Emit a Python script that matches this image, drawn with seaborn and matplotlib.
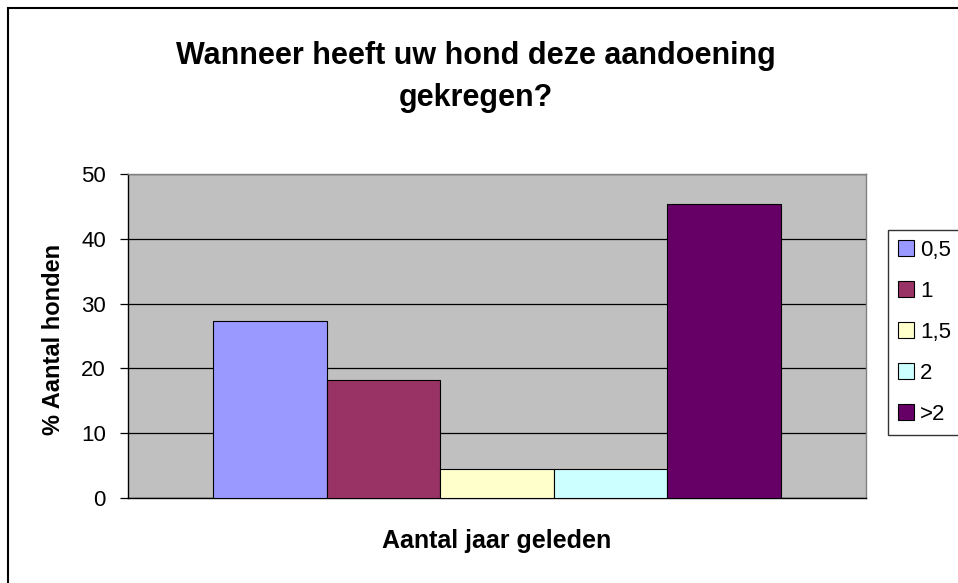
import pandas as pd
import matplotlib.pyplot as plt
import seaborn as sns
from matplotlib.patches import Rectangle, Patch

# data (percentages)
jaren = ["0,5", "1", "1,5", "2", ">2"]
percentages = [27.3, 18.2, 4.5, 4.5, 45.4]
kleuren = ["#9999FF", "#993366", "#FFFFCC", "#CCFFFF", "#660066"]

df = pd.DataFrame({"groep": [""] * len(jaren), "jaar": jaren, "pct": percentages})

sns.set_style("white")
plt.rcParams["font.family"] = ["Liberation Sans", "DejaVu Sans"]
plt.rcParams["text.color"] = "black"
plt.rcParams["axes.labelcolor"] = "black"
plt.rcParams["ytick.color"] = "black"

fig = plt.figure(figsize=(9.58, 5.83), dpi=100)
ax = fig.add_axes([128 / 958, 1 - 498 / 583, (866 - 128) / 958, (498 - 174) / 583])

sns.barplot(data=df, x="groep", y="pct", hue="jaar", palette=kleuren,
            saturation=1, width=0.77, gap=0, edgecolor="black", linewidth=0.8,
            ax=ax, legend=False, zorder=3)

ax.set_facecolor("#C0C0C0")
ax.set_xlim(-0.5, 0.5)
ax.set_ylim(0, 50)
ax.set_yticks([0, 10, 20, 30, 40, 50])
ax.yaxis.grid(True, color="black", linewidth=0.9, zorder=0)
ax.set_axisbelow(True)
ax.set_xticks([])
ax.tick_params(axis="y", labelsize=16, length=6, width=0.9, color="black",
               left=True, pad=10)
for s in ["top", "right"]:
    ax.spines[s].set_color("#808080")
for s in ["left", "bottom"]:
    ax.spines[s].set_color("black")
for s in ax.spines.values():
    s.set_linewidth(1)

ax.set_xlabel("Aantal jaar geleden", fontsize=18, fontweight="bold", labelpad=22)
ax.set_ylabel("% Aantal honden", fontsize=17, fontweight="bold")
ax.yaxis.set_label_coords(-0.085, 0.49)

fig.text(476 / 958, 1 - 77 / 583, "Wanneer heeft uw hond deze aandoening\ngekregen?",
         ha="center", va="center", fontsize=22, fontweight="bold", linespacing=1.5)

handles = [Patch(facecolor=c, edgecolor="black", linewidth=0.8) for c in kleuren]
leg = fig.legend(handles, jaren, loc="upper left",
                 bbox_to_anchor=(888 / 958, 1 - 230 / 583), fontsize=16,
                 frameon=True, fancybox=False, labelspacing=0.9,
                 handlelength=0.7, handleheight=0.7, handletextpad=0.3,
                 borderpad=0.45, borderaxespad=0)
leg.get_frame().set_edgecolor("black")
leg.get_frame().set_linewidth(1)

# chart area border
fig.patches.append(Rectangle((8 / 958, -0.1), 1.2, 1 - 8 / 583 + 0.1,
                             transform=fig.transFigure, fill=False,
                             edgecolor="black", linewidth=1.5))

fig.savefig("out.png", dpi=100)
